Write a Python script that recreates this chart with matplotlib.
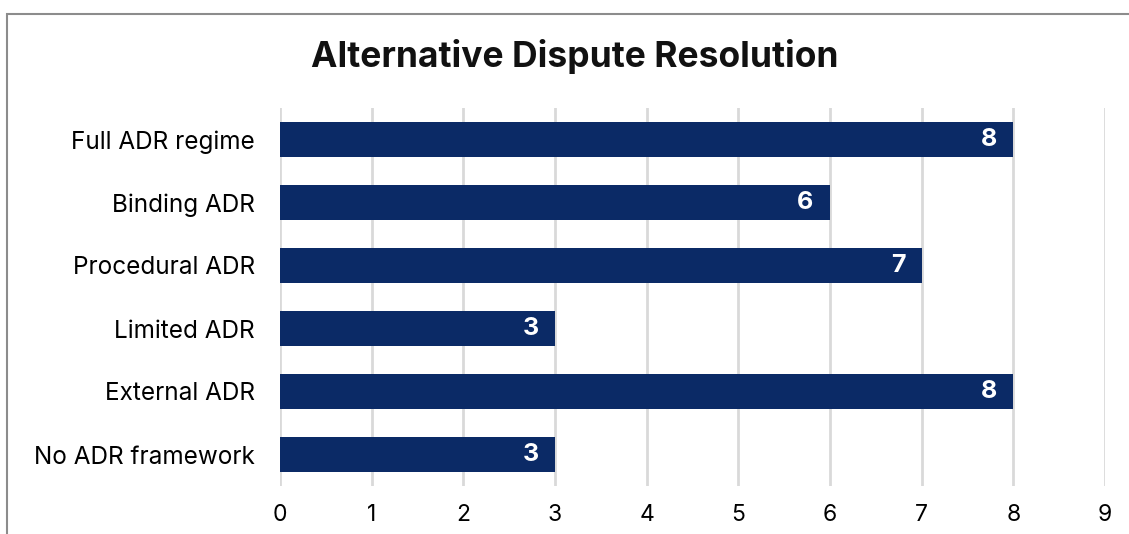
import matplotlib.pyplot as plt
from matplotlib.patches import Rectangle

categories = ['Full ADR regime', 'Binding ADR', 'Procedural ADR',
              'Limited ADR', 'External ADR', 'No ADR framework']
values = [8, 6, 7, 3, 8, 3]

plt.rcParams['font.family'] = ['Inter', 'DejaVu Sans']

fig = plt.figure(figsize=(11.29, 5.34), dpi=100)
ax = fig.add_axes([280/1129, 1 - 486/534, 825/1129, 378/534])

# outer frame, cut off at the right and bottom
fig.patches.append(Rectangle((7/1129, -0.1), 1.2, 1 - 14/534 + 0.1,
                             transform=fig.transFigure, fill=False,
                             edgecolor='#8c8c8c', linewidth=1.5))

pos = list(range(len(categories)))
bars = ax.barh(pos, values, height=0.57, color='#0b2a66', zorder=3)
for b, v in zip(bars, values):
    ax.text(v - 0.18, b.get_y() + b.get_height() / 2, str(v), color='white',
            fontsize=18, fontweight='bold', ha='right', va='center', zorder=4)

ax.set_xlim(0, 9)
ax.set_ylim(5.5, -0.5)
ax.set_xticks(range(10))
ax.set_yticks(pos)
ax.set_yticklabels(categories, fontsize=17.5)
ax.tick_params(axis='x', labelsize=16.5, length=0, pad=13)
ax.tick_params(axis='y', length=0, pad=18)
ax.grid(axis='x', color='#d9d9d9', linewidth=2, zorder=0)
for s in ax.spines.values():
    s.set_visible(False)

fig.text(575/1129, 1 - 56/534, 'Alternative Dispute Resolution', fontsize=25.5,
         fontweight='bold', ha='center', va='center', color='#111111')

fig.savefig('out.png', dpi=100)
